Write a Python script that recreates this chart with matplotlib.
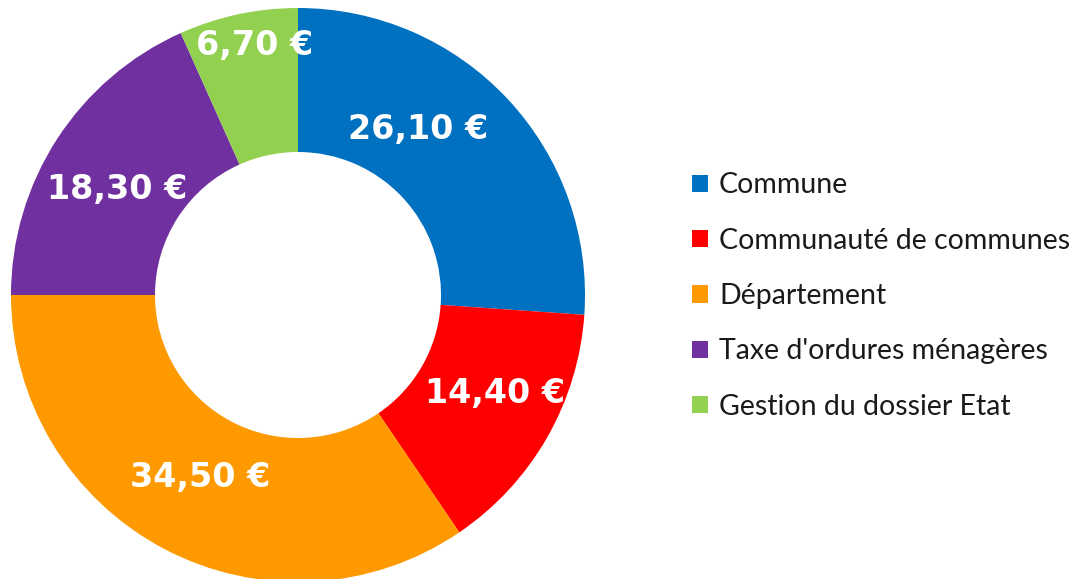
import matplotlib
matplotlib.use("Agg")
import matplotlib.pyplot as plt

categories = ["Commune", "Communauté de communes", "Département",
              "Taxe d'ordures ménagères", "Gestion du dossier Etat"]
values = [26.10, 14.40, 34.50, 18.30, 6.70]
labels = ["26,10 €", "14,40 €", "34,50 €", "18,30 €", "6,70 €"]
colors = ["#0070C0", "#FF0000", "#FF9900", "#7030A0", "#92D050"]

W, H = 1077, 579
fig = plt.figure(figsize=(W / 100, H / 100), dpi=100)
ax = fig.add_axes([0, 0, 1, 1])
ax.set_xlim(0, W)
ax.set_ylim(0, H)
ax.set_aspect("equal")
ax.axis("off")

cx, cy = 298, H - 295
R, r_in = 287, 143
wedges, _ = ax.pie(values, colors=colors, startangle=90, counterclock=False,
                   center=(cx, cy), radius=R,
                   wedgeprops=dict(width=R - r_in, edgecolor="none"))
ax.set_xlim(0, W)
ax.set_ylim(0, H)

# label placement (pixel coords of label centres, layout only)
label_pos = [(418, 130), (495, 393), (200, 478), (117, 190), (255, 46)]
for (px, py), txt in zip(label_pos, labels):
    ax.text(px, H - py, txt, ha="center", va="center", color="white",
            fontsize=24, fontweight="bold", family="DejaVu Sans")

leg = ax.legend(wedges, categories, loc="center left",
                bbox_to_anchor=(692 / W, 1 - 296 / H),
                frameon=False, prop=dict(family="Lato", size=20.5),
                handlelength=0.55, handleheight=0.55, handletextpad=0.4,
                labelspacing=1.03, borderpad=0, borderaxespad=0)
for t in leg.get_texts():
    t.set_color("#1a1a1a")

fig.savefig("out.png", dpi=100)
